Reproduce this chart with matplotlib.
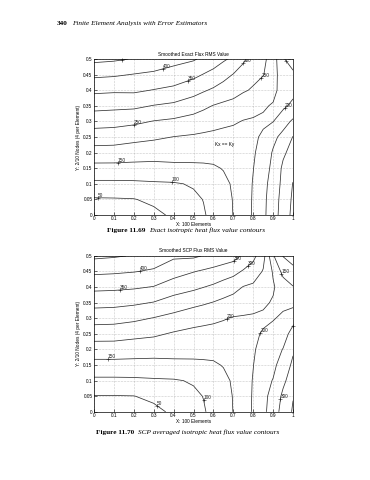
import numpy as np
import matplotlib
matplotlib.use("Agg")
import matplotlib.pyplot as plt

plt.rcParams['font.family'] = ['Liberation Sans', 'DejaVu Sans']

# grid nodes (x along the 1.0 long edge, y along the 0.5 high edge)
x_nodes = [0, 0.1, 0.2, 0.3, 0.4, 0.5, 0.55, 0.6, 0.65, 0.7, 0.75, 0.8, 0.85, 0.9, 0.95, 1.0]
y_nodes = [0, 0.05, 0.1, 0.15, 0.2, 0.25, 0.3, 0.35, 0.4, 0.45, 0.5]

# flux RMS values, one list per x node (values from y=0 to y=0.5)
exact_flux = [
    [0, 45, 90, 135, 180, 225, 270, 315, 360, 410, 462],
    [8, 46, 90, 135, 179, 223, 267, 312, 357, 406, 457],
    [22, 48, 91, 135, 173, 215, 260, 310, 358, 398, 447],
    [38, 60, 94, 136, 168, 208, 248, 298, 348, 392, 430],
    [58, 74, 96, 138, 170, 199, 241, 290, 338, 381, 415],
    [82, 92, 104, 140, 168, 194, 230, 273, 318, 362, 405],
    [96, 101, 112, 142, 166, 191, 223, 260, 305, 348, 390],
    [112, 116, 125, 145, 165, 188, 217, 248, 293, 335, 375],
    [130, 133, 140, 152, 168, 186, 210, 240, 280, 316, 357],
    [151, 152, 155, 162, 172, 185, 205, 235, 268, 298, 340],
    [172, 173, 175, 178, 182, 188, 198, 222, 255, 280, 308],
    [206, 205, 203, 199, 195, 192, 196, 212, 245, 262, 280],
    [239, 238, 235, 228, 218, 207, 193, 205, 228, 252, 262],
    [279, 276, 270, 262, 255, 238, 199, 196, 213, 222, 225],
    [321, 318, 313, 309, 292, 265, 230, 190, 180, 170, 155],
    [363, 358, 352, 335, 318, 302, 258, 212, 185, 160, 125],
]

scp_flux = [
    [0, 48, 90, 135, 176, 222, 270, 316, 362, 410, 460],
    [8, 48, 90, 135, 176, 221, 268, 314, 360, 407, 455],
    [22, 49, 91, 135, 172, 214, 260, 308, 356, 402, 447],
    [38, 60, 94, 136, 168, 208, 248, 298, 348, 394, 428],
    [58, 74, 96, 138, 168, 195, 235, 278, 325, 370, 408],
    [82, 92, 104, 140, 166, 188, 218, 264, 310, 352, 408],
    [96, 101, 112, 142, 165, 185, 214, 256, 301, 344, 398],
    [112, 116, 125, 145, 163, 182, 210, 248, 292, 336, 388],
    [130, 133, 140, 152, 167, 183, 203, 238, 280, 325, 380],
    [151, 152, 155, 162, 172, 184, 197, 228, 268, 315, 370],
    [172, 173, 175, 178, 182, 188, 196, 218, 248, 295, 342],
    [206, 205, 203, 199, 195, 192, 196, 210, 240, 280, 312],
    [239, 238, 235, 228, 216, 204, 192, 207, 225, 246, 270],
    [272, 265, 252, 240, 228, 215, 197, 196, 205, 195, 155],
    [321, 310, 290, 270, 252, 228, 208, 190, 175, 135, 98],
    [355, 348, 325, 310, 293, 270, 232, 185, 152, 120, 70],
]

levels = [50, 100, 150, 200, 250, 300, 350, 400, 450]

x_ticks = [0, 0.1, 0.2, 0.3, 0.4, 0.5, 0.6, 0.7, 0.8, 0.9, 1.0]
x_tick_labels = ['0', '0.1', '0.2', '0.3', '0.4', '0.5', '0.6', '0.7', '0.8', '0.9', '1']
y_ticks = [0, 0.05, 0.1, 0.15, 0.2, 0.25, 0.3, 0.35, 0.4, 0.45, 0.5]
y_tick_labels = ['0', '0.05', '0.1', '0.15', '0.2', '0.25', '0.3', '0.35', '0.4', '0.45', '0.5']

# approximate spots of the contour labels
exact_label_pos = [(0.02, 0.058), (0.39, 0.11), (0.12, 0.167), (0.2, 0.29),
                   (0.14, 0.495), (0.35, 0.465), (0.47, 0.432), (0.75, 0.487),
                   (0.84, 0.44), (0.96, 0.49), (0.96, 0.34)]
scp_label_pos = [(0.33, 0.03), (0.575, 0.04), (0.07, 0.167), (0.67, 0.295),
                 (0.84, 0.25), (0.13, 0.392), (0.23, 0.452), (0.71, 0.475),
                 (0.785, 0.458), (0.93, 0.44), (0.945, 0.04), (0.98, 0.29)]

fig = plt.figure(figsize=(3.7, 4.8), dpi=100)

ax1 = fig.add_axes([0.254, 0.552, 0.538, 0.325])
ax2 = fig.add_axes([0.254, 0.142, 0.538, 0.325])

fs = 3.4


def draw(ax, field, title, label_pos, ylabel):
    z = np.array(field, dtype=float).T
    cs = ax.contour(x_nodes, y_nodes, z, levels=levels,
                    colors='#333333', linewidths=0.55)
    texts = ax.clabel(cs, manual=label_pos, inline=False, fontsize=fs,
                      fmt='%d', colors='#222222')
    for t in texts:
        px, py = t.get_position()
        ax.plot([px], [py], marker='+', ms=2.2, mew=0.4, color='#222222',
                clip_on=False)
        t.set_rotation(0)
        t.set_ha('left')
        t.set_va('bottom')
    ax.set_xlim(0, 1)
    ax.set_ylim(0, 0.5)
    ax.set_xticks(x_ticks)
    ax.set_xticklabels(x_tick_labels)
    ax.set_yticks(y_ticks)
    ax.set_yticklabels(y_tick_labels)
    ax.grid(True, color='#999999', linestyle=':', linewidth=0.4)
    ax.tick_params(direction='in', length=2, width=0.4, labelsize=fs, pad=1.0)
    for s in ax.spines.values():
        s.set_linewidth(0.5)
    ax.set_title(title, fontsize=fs, pad=2.5)
    ax.set_xlabel('X: 100 Elements', fontsize=fs, labelpad=0.3)
    ax.set_ylabel(ylabel, fontsize=fs, labelpad=1.5)


draw(ax1, exact_flux, 'Smoothed Exact Flux RMS Value', exact_label_pos,
     'Y: 2/10 Nodes (4 per Element)')
draw(ax2, scp_flux, 'Smoothed SCP Flux RMS Value', scp_label_pos,
     'Y: 2/10 Nodes (4 per Element)')
ax1.text(0.61, 0.225, 'Kx == Ky', fontsize=fs, ha='left', va='center')

renderer = fig.canvas.get_renderer()


def two_part(x, y, bold, italic, size):
    t = fig.text(x, y, bold, fontsize=size, fontweight='bold',
                 family='Liberation Serif', ha='left', va='center')
    bb = t.get_window_extent(renderer=renderer)
    x2 = (bb.x1 + 4) / fig.bbox.width
    fig.text(x2, y, italic, fontsize=size, fontstyle='italic',
             family='Liberation Serif', ha='left', va='center')


two_part(0.154, 0.952, '340', 'Finite Element Analysis with Error Estimators', 5.2)
two_part(0.289, 0.520, 'Figure 11.69', 'Exact isotropic heat flux value contours', 5.2)
two_part(0.259, 0.099, 'Figure 11.70', 'SCP averaged isotropic heat flux value contours', 5.2)

fig.savefig('out.png', dpi=100)
